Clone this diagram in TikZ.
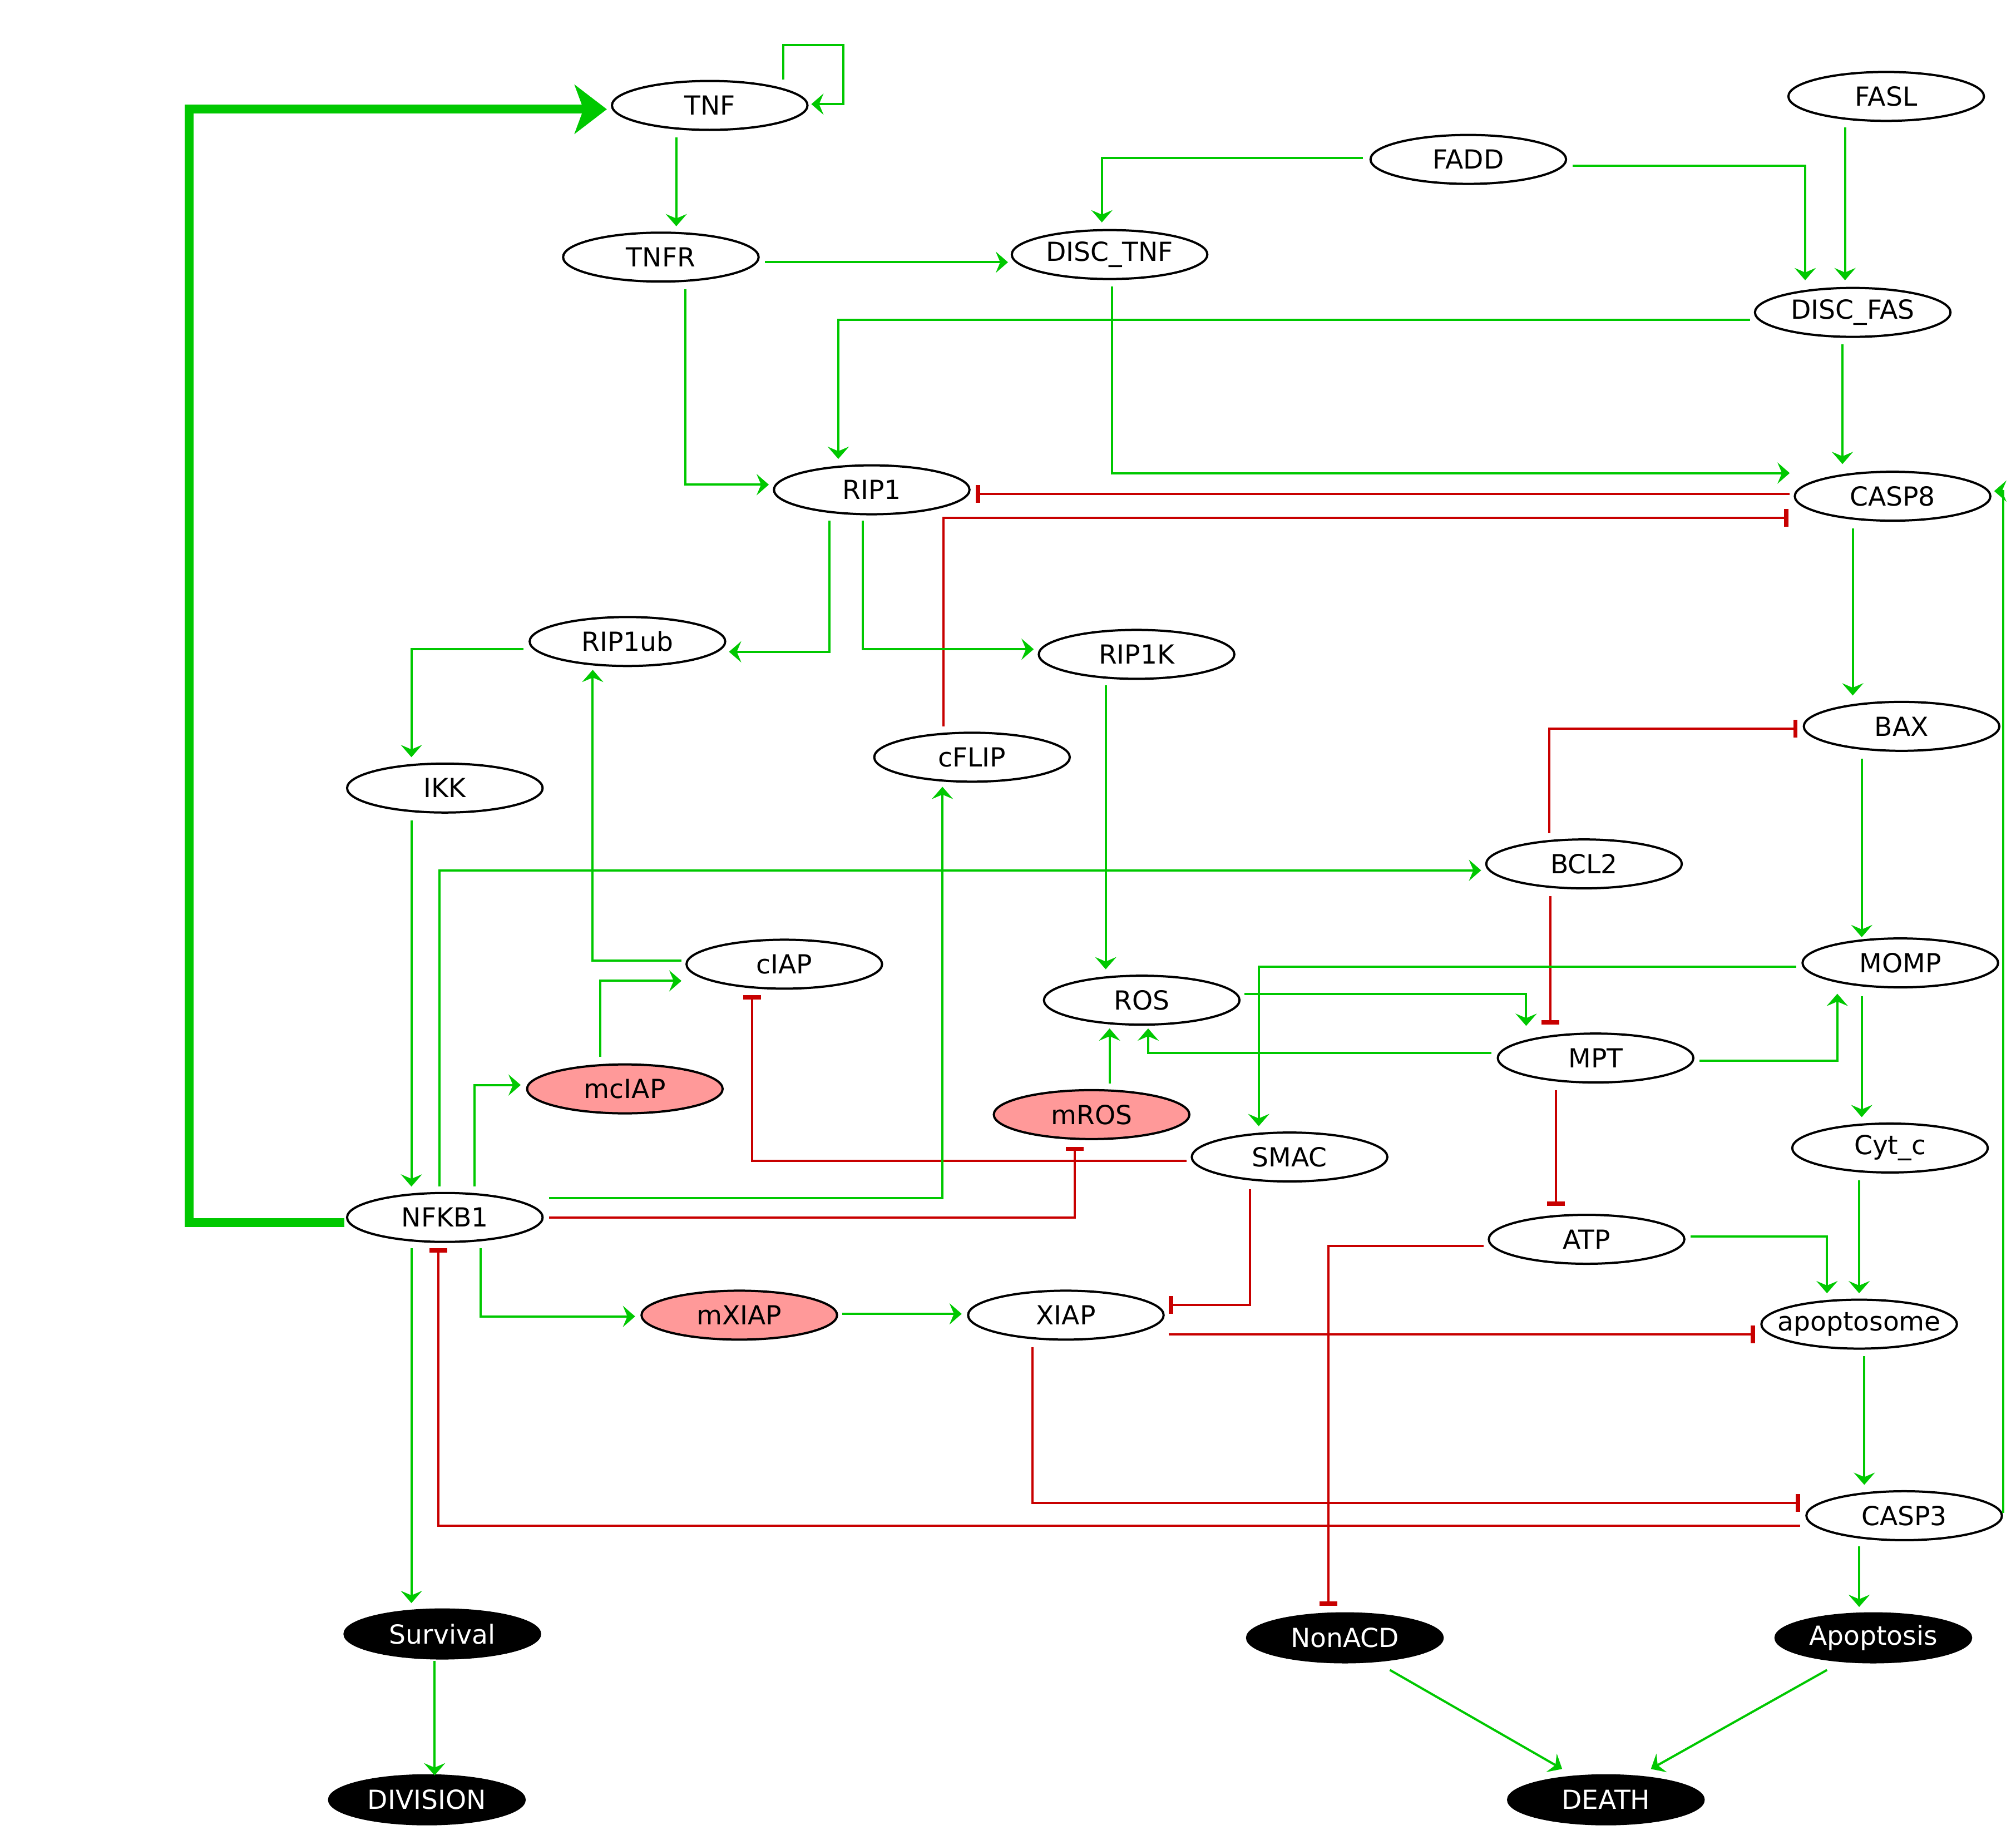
\documentclass[tikz,border=0pt]{standalone}
\usepackage{fontspec}
\setmainfont{DejaVu Sans}
\usetikzlibrary{arrows.meta,calc,shapes.geometric}
\definecolor{actg}{RGB}{0,200,0}
\definecolor{inhr}{RGB}{200,0,0}
\definecolor{pinkf}{RGB}{255,153,153}
\begin{document}
\begin{tikzpicture}[x=0.578pt,y=-0.578pt,
  gene/.style={ellipse,draw=black,line width=1pt,minimum width=87.9pt,minimum height=22pt,inner sep=0pt,font=\fontsize{11.8}{14}\selectfont},
  mut/.style={gene,fill=pinkf},
  outc/.style={gene,fill=black,draw=black,text=white},
  act/.style={draw=actg,line width=1pt,-{Stealth[length=5.5pt,width=9.5pt,inset=2pt]}},
  inh/.style={draw=inhr,line width=1pt,-{Rectangle[length=1.9pt,width=8pt]}},
  big/.style={draw=actg,line width=4pt,-{Stealth[length=14.5pt,width=22pt,inset=4pt]}}]
\fill[white] (0,0) rectangle (1568,1431);
\useasboundingbox (0,0) rectangle (1568,1431);
% nodes
\node[gene] (TNF) at (552,82) {TNF};
\node[gene] (FASL) at (1467,75) {FASL};
\node[gene] (FADD) at (1142,124) {FADD};
\node[gene] (TNFR) at (514,200) {TNFR};
\node[gene] (DISCTNF) at (863,198) {\makebox[0pt]{DISC\_TNF}};
\node[gene] (DISCFAS) at (1441,243) {\makebox[0pt]{DISC\_FAS}};
\node[gene] (RIP1) at (678,381) {RIP1};
\node[gene] (CASP8) at (1472,386) {CASP8};
\node[gene] (RIP1ub) at (488,499) {RIP1ub};
\node[gene] (RIP1K) at (884,509) {RIP1K};
\node[gene] (BAX) at (1479,565) {BAX};
\node[gene] (cFLIP) at (756,589) {cFLIP};
\node[gene] (IKK) at (346,613) {IKK};
\node[gene] (BCL2) at (1232,672) {BCL2};
\node[gene] (cIAP) at (610,750) {cIAP};
\node[gene] (MOMP) at (1478,749) {MOMP};
\node[gene] (ROS) at (888,778) {ROS};
\node[gene] (MPT) at (1241,823) {MPT};
\node[mut] (mcIAP) at (486,847) {mcIAP};
\node[mut] (mROS) at (849,867) {mROS};
\node[gene] (Cytc) at (1470,893) {Cyt\_c};
\node[gene] (SMAC) at (1003,900) {SMAC};
\node[gene] (NFKB1) at (346,947) {NFKB1};
\node[gene] (ATP) at (1234,964) {ATP};
\node[mut] (mXIAP) at (575,1023) {mXIAP};
\node[gene] (XIAP) at (829,1023) {XIAP};
\node[gene] (apoptosome) at (1446,1030) {\makebox[0pt]{apoptosome}};
\node[gene] (CASP3) at (1481,1179) {CASP3};
\node[outc] (Survival) at (344,1271) {Survival};
\node[outc] (NonACD) at (1046,1274) {NonACD};
\node[outc] (Apoptosis) at (1457,1274) {\makebox[0pt]{Apoptosis}};
\node[outc] (DIVISION) at (332,1400) {\makebox[0pt]{DIVISION}};
\node[outc] (DEATH) at (1249,1400) {DEATH};
% edges
\draw[act] ($(TNF)+(57,-20)$) |- ($(TNF)+(104,-47)$) |- ($(TNF)+(79,-1)$);
\draw[act] ($(TNF)+(-26,25)$) -- ($(TNFR)+(12,-24)$);
\draw[act] ($(TNFR)+(81,4)$) -- ($(DISCTNF)+(-79,6)$);
\draw[act] ($(FADD)+(-82,-1)$) -| ($(DISCTNF)+(-6,-25)$);
\draw[act] ($(FADD)+(81,5)$) -| ($(DISCFAS)+(-37,-25)$);
\draw[act] ($(FASL)+(-32,24)$) -- ($(DISCFAS)+(-6,-25)$);
\draw[act] ($(DISCFAS)+(-80,6)$) -| ($(RIP1)+(-26,-24)$);
\draw[act] ($(DISCFAS)+(-8,25)$) -- ($(CASP8)+(-39,-25)$);
\draw[act] ($(DISCTNF)+(2,25)$) |- ($(CASP8)+(-80,-18)$);
\draw[act] ($(TNFR)+(19,25)$) |- ($(RIP1)+(-80,-4)$);
\draw[inh] ($(CASP8)+(-80,-2)$) -- ($(RIP1)+(81,3)$);
\draw[inh] ($(cFLIP)+(-22,-24)$) |- ($(CASP8)+(-81,17)$);
\draw[act] ($(RIP1)+(-33,24)$) |- ($(RIP1ub)+(79,8)$);
\draw[act] ($(RIP1)+(-7,24)$) |- ($(RIP1K)+(-80,-4)$);
\draw[act] ($(RIP1ub)+(-81,6)$) -| ($(IKK)+(-26,-24)$);
\draw[act] ($(IKK)+(-26,25)$) -- ($(NFKB1)+(-26,-24)$);
\draw[act] ($(RIP1K)+(-24,24)$) -- ($(ROS)+(-28,-24)$);
\draw[act] ($(CASP8)+(-31,25)$) -- ($(BAX)+(-38,-24)$);
\draw[inh] ($(BCL2)+(-27,-24)$) |- ($(BAX)+(-81,2)$);
\draw[inh] ($(BCL2)+(-26,25)$) -- ($(MPT)+(-35,-26)$);
\draw[act] ($(BAX)+(-31,25)$) -- ($(MOMP)+(-30,-20)$);
\draw[act] ($(NFKB1)+(-4,-24)$) |- ($(BCL2)+(-80,5)$);
\draw[act] ($(cIAP)+(-80,-3)$) -| ($(RIP1ub)+(-27,22)$);
\draw[act] ($(mcIAP)+(-19,-25)$) |- ($(cIAP)+(-80,13)$);
\draw[act] ($(NFKB1)+(23,-24)$) |- ($(mcIAP)+(-81,-3)$);
\draw[act] ($(MOMP)+(-81,3)$) -| ($(SMAC)+(-24,-24)$);
\draw[act] ($(ROS)+(80,-5)$) -| ($(MPT)+(-54,-25)$);
\draw[act] ($(MPT)+(-81,-4)$) -| ($(ROS)+(5,22)$);
\draw[act] ($(MPT)+(81,2)$) -| ($(MOMP)+(-49,24)$);
\draw[act] ($(MOMP)+(-30,26)$) -- ($(Cytc)+(-22,-24)$);
\draw[act] ($(mROS)+(14,-24)$) -- ($(ROS)+(-25,22)$);
\draw[inh] ($(SMAC)+(-80,3)$) -| ($(cIAP)+(-25,24)$);
\draw[inh] ($(NFKB1)+(81,0)$) -| ($(mROS)+(-13,25)$);
\draw[act] ($(NFKB1)+(81,-15)$) -| ($(cFLIP)+(-23,23)$);
\draw[inh] ($(SMAC)+(-31,25)$) |- ($(XIAP)+(80,-8)$);
\draw[inh] ($(MPT)+(-31,25)$) -- ($(ATP)+(-24,-26)$);
\draw[inh] ($(ATP)+(-80,5)$) -| ($(NonACD)+(-13,-25)$);
\draw[act] ($(ATP)+(81,-2)$) -| ($(apoptosome)+(-25,-24)$);
\draw[act] ($(Cytc)+(-24,25)$) -- ($(apoptosome)+(0,-24)$);
\draw[inh] ($(XIAP)+(80,15)$) -- ($(apoptosome)+(-81,8)$);
\draw[inh] ($(XIAP)+(-26,25)$) |- ($(CASP3)+(-81,-10)$);
\draw[act] ($(apoptosome)+(4,25)$) -- ($(CASP3)+(-31,-24)$);
\draw[act] ($(CASP3)+(77,-2)$) |- ($(CASP8)+(79,-4)$);
\draw[inh] ($(CASP3)+(-81,8)$) -| ($(NFKB1)+(-5,24)$);
\draw[act] ($(NFKB1)+(-26,24)$) -- ($(Survival)+(-24,-24)$);
\draw[act] ($(NFKB1)+(28,24)$) |- ($(mXIAP)+(-81,1)$);
\draw[act] ($(mXIAP)+(80,-1)$) -- ($(XIAP)+(-81,-1)$);
\draw[act] ($(CASP3)+(-35,24)$) -- ($(Apoptosis)+(-11,-24)$);
\draw[act] ($(Survival)+(-6,21)$) -- ($(DIVISION)+(6,-19)$);
\draw[act] ($(NonACD)+(35,25)$) -- ($(DEATH)+(-34,-24)$);
\draw[act] ($(Apoptosis)+(-36,25)$) -- ($(DEATH)+(35,-24)$);
\draw[big] ($(NFKB1)+(-78,4)$) -| ($(TNF)+(-405,3)$) -- ($(TNF)+(-80,3)$);
\end{tikzpicture}
\end{document}
